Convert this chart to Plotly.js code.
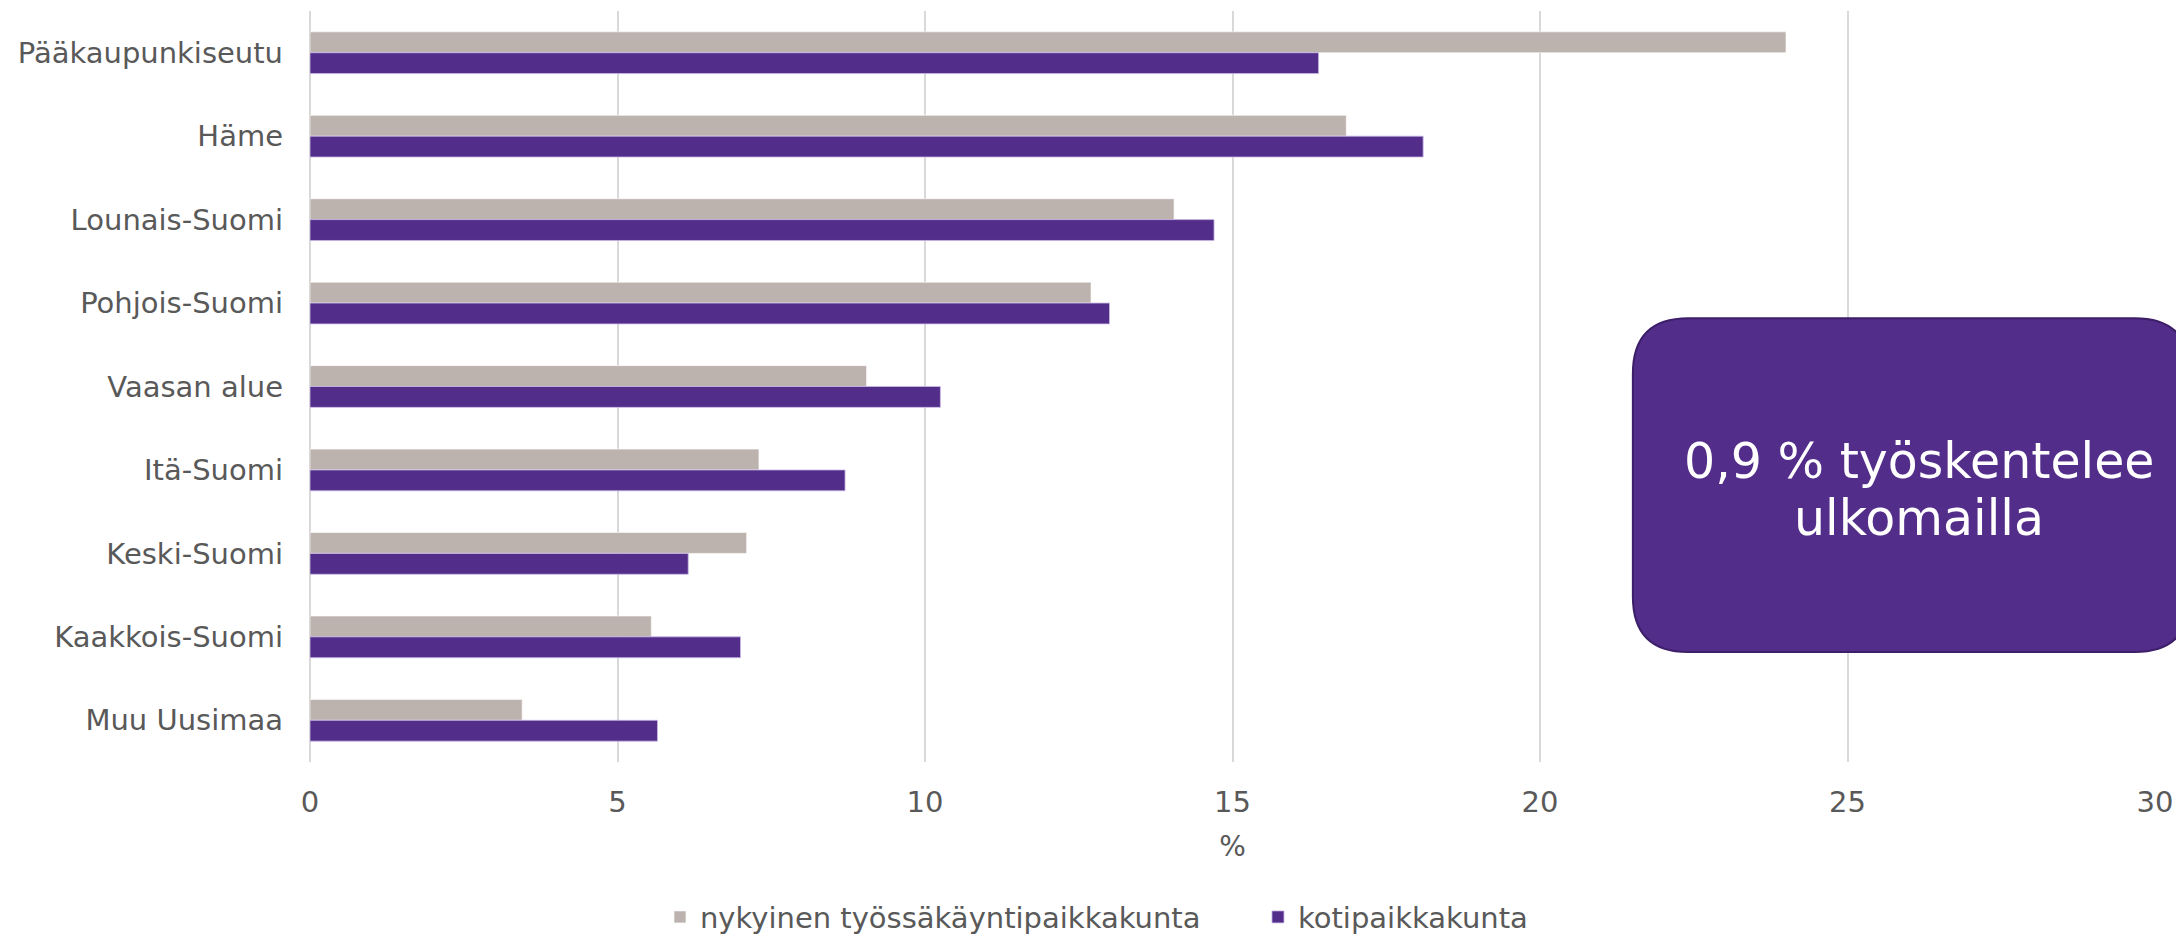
<!DOCTYPE html>
<html>
<head>
<meta charset="utf-8">
<script src="https://cdn.plot.ly/plotly-3.0.1.min.js"></script>
<style>html,body{margin:0;padding:0;background:#fff;}#chart{width:2176px;height:937px;}</style>
</head>
<body>
<div id="chart"></div>
<script>
const categories = ["Pääkaupunkiseutu","Häme","Lounais-Suomi","Pohjois-Suomi","Vaasan alue","Itä-Suomi","Keski-Suomi","Kaakkois-Suomi","Muu Uusimaa"];
const tyossakayntiValues = [24.0, 16.85, 14.05, 12.7, 9.05, 7.3, 7.1, 5.55, 3.45];
const kotipaikkaValues = [16.4, 18.1, 14.7, 13.0, 10.25, 8.7, 6.15, 7.0, 5.65];
const seriesNames = ["nykyinen työssäkäyntipaikkakunta", "kotipaikkakunta"];
const xTickValues = [0, 5, 10, 15, 20, 25, 30];
const boxLines = ["0,9 % työskentelee", "ulkomailla"];

const FONT = "DejaVu Sans, Verdana, sans-serif";
const GREY = "#bdb3ae";
const PURPLE = "#532d8a";
const TEXT = "#595959";

const traces = [
  {type:"bar", orientation:"h", name:seriesNames[0], y:categories, x:tyossakayntiValues,
   marker:{color:GREY, line:{color:"rgba(255,255,255,0.6)", width:1}}, hoverinfo:"x+y"},
  {type:"bar", orientation:"h", name:seriesNames[1], y:categories, x:kotipaikkaValues,
   marker:{color:PURPLE, line:{color:"rgba(200,185,230,0.8)", width:1}}, hoverinfo:"x+y"}
];

// rounded box in paper coordinates
const x0 = 0.717, x1 = 1.019, y0 = 0.1465, y1 = 0.591;
const rx = 0.030, ry = 0.074;
const path = `M${x0+rx},${y1} L${x1-rx},${y1} Q${x1},${y1} ${x1},${y1-ry} L${x1},${y0+ry} Q${x1},${y0} ${x1-rx},${y0} L${x0+rx},${y0} Q${x0},${y0} ${x0},${y0+ry} L${x0},${y1-ry} Q${x0},${y1} ${x0+rx},${y1} Z`;

const layout = {
  width:2176, height:937,
  margin:{l:310, r:21, t:11, b:175},
  paper_bgcolor:"#ffffff", plot_bgcolor:"#ffffff",
  font:{family:FONT, size:28, color:TEXT},
  barmode:"group", bargap:0.5, bargroupgap:0,
  xaxis:{
    range:[0,30], tickvals:xTickValues, ticktext:xTickValues.map(String),
    showgrid:true, gridcolor:"#d9d9d9", gridwidth:2,
    zeroline:true, zerolinecolor:"#d9d9d9", zerolinewidth:2,
    showline:false, ticks:"", ticklabelstandoff:20,
    tickfont:{family:FONT, size:29, color:TEXT},
    title:{text:"%", font:{family:FONT, size:28, color:TEXT}, standoff:18},
    fixedrange:true
  },
  yaxis:{
    autorange:"reversed", type:"category",
    showgrid:false, zeroline:false, showline:false, ticks:"",
    ticklabelstandoff:26,
    tickfont:{family:FONT, size:29, color:TEXT},
    fixedrange:true
  },
  legend:{
    orientation:"h", xref:"container", yref:"container",
    x:0.3033, xanchor:"left", y:0.0213, yanchor:"middle",
    traceorder:"normal", font:{family:FONT, size:29, color:TEXT},
    itemwidth:30, entrywidthmode:"pixels", entrywidth:553
  },
  shapes:[{type:"path", xref:"paper", yref:"paper", path:path,
    fillcolor:PURPLE, line:{color:"#3c1f68", width:2}, layer:"above"}],
  annotations:[
    {xref:"paper", yref:"paper", x:0.8721, y:0.3995, xanchor:"center", yanchor:"middle",
     text:boxLines[0], showarrow:false, font:{family:FONT, size:49, color:"#ffffff"}},
    {xref:"paper", yref:"paper", x:0.8721, y:0.3249, xanchor:"center", yanchor:"middle",
     text:boxLines[1], showarrow:false, font:{family:FONT, size:49, color:"#ffffff"}}
  ]
};

Plotly.newPlot("chart", traces, layout, {displayModeBar:false, staticPlot:true});
</script>
</body>
</html>
